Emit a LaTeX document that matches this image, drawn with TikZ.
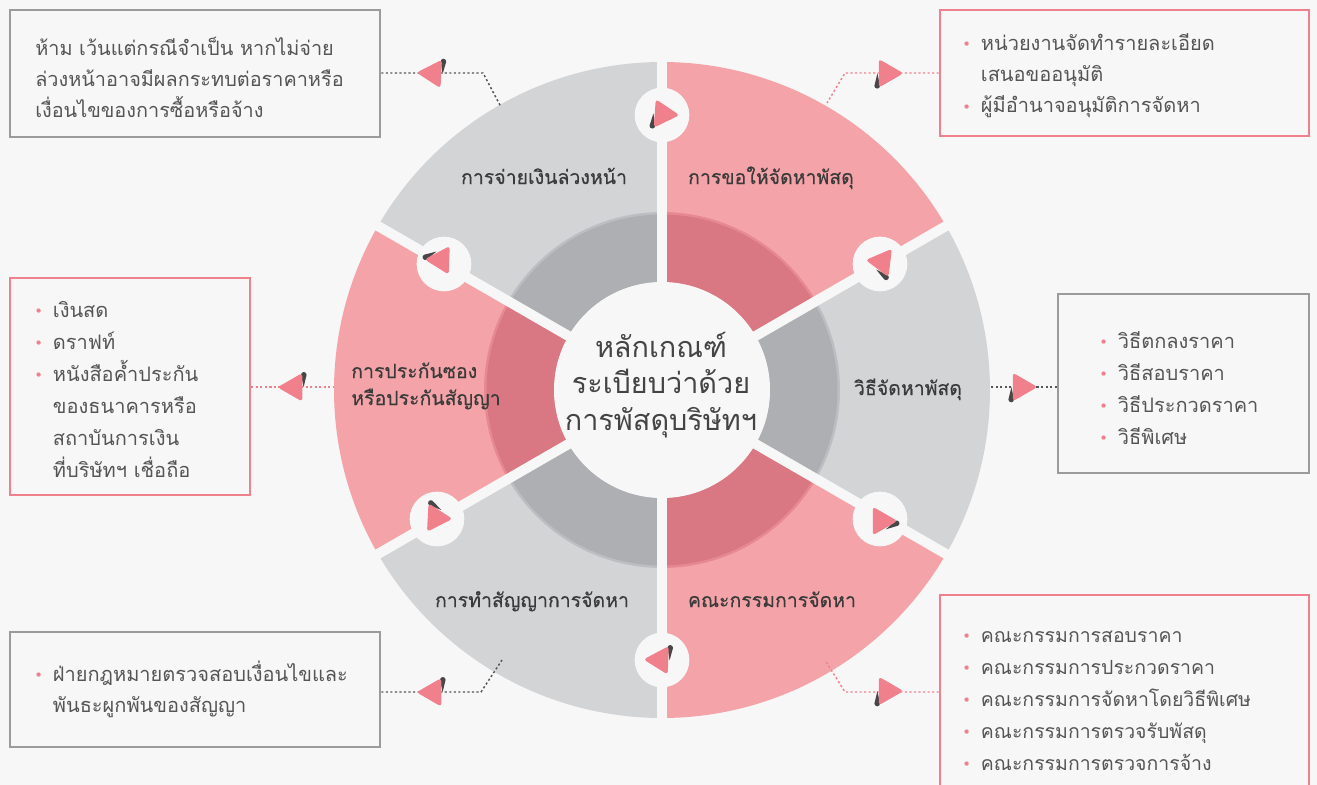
\documentclass[tikz,border=0pt]{standalone}
\usepackage{fontspec}
\newfontfamily\thaifont[Script=Thai]{Loma}
\newfontfamily\thaimed[Script=Thai, FakeBold=0.35]{Loma}
\newfontfamily\dotfont{DejaVu Sans}
\usetikzlibrary{calc,fit}

\definecolor{canvas}{HTML}{F7F7F7}
\definecolor{pinkA}{HTML}{F4A4A9}
\definecolor{pinkB}{HTML}{D97882}
\definecolor{pinkEdge}{HTML}{E68991}
\definecolor{greyA}{HTML}{D3D4D6}
\definecolor{greyB}{HTML}{AEAFB2}
\definecolor{greyEdge}{HTML}{BDBEC1}
\definecolor{accent}{HTML}{F0808C}
\definecolor{frameGrey}{HTML}{9B9B9D}
\definecolor{inkDark}{HTML}{3A3A3A}
\definecolor{inkTitle}{HTML}{444444}
\definecolor{inkText}{HTML}{555555}
\definecolor{needleInk}{HTML}{474747}

% bullet and hanging indent for the lists
\newcommand{\bul}{\makebox[14pt][l]{\raisebox{0.5pt}{\textcolor{accent}{\dotfont\fontsize{11}{11}\selectfont •}}}}
\newcommand{\ind}{\hspace*{14pt}}

\tikzset{
  marker/.pic={
    \begin{scope}[yscale=-1, rotate=#1]
      \fill[needleInk] (-9.6,0) -- (-12.6,-12.5)
        arc[start angle=180, end angle=360, radius=2.8] -- cycle;
      \fill[accent, rounded corners=2.4pt] (0:16.5) -- (120:16.5) -- (240:16.5) -- cycle;
    \end{scope}
  },
  badge/.style={circle, fill=canvas, minimum size=41pt, inner sep=0},
  boxG/.style={draw=frameGrey, line width=1.9pt, inner sep=0},
  boxP/.style={draw=accent, line width=1.9pt, inner sep=0},
  boxtext/.style={align=left, inner sep=0, text=inkText, text width=300pt,
    font=\thaifont\fontsize{14.9}{23.4}\selectfont},
  listtext/.style={align=left, inner sep=0, text=inkText, text width=300pt,
    font=\thaifont\fontsize{15}{24}\selectfont},
  seglabel/.style={inner sep=0, text=inkDark, font=\thaimed\fontsize{14.6}{20.25}\selectfont},
  dotG/.style={draw=inkText, line width=1.1pt, dash pattern=on 1.6pt off 1.8pt},
  dotP/.style={draw=accent, line width=1.1pt, dash pattern=on 1.6pt off 1.8pt},
}

\begin{document}
\begin{tikzpicture}[x=0.75pt, y=-0.75pt, font=\thaifont]
\fill[canvas] (0,0) rectangle (1317,785);
\useasboundingbox (0,0) rectangle (1317,785);

% ---- ring of six sectors ----
\begin{scope}[shift={(662,390)}, yscale=-1]
  \foreach \a/\c in {90/greyA, 30/pinkA, -30/greyA, -90/pinkA, 210/greyA, 150/pinkA}
    \fill[\c] (0,0) -- (\a:328) arc[start angle=\a, end angle=\a+60, radius=328] -- cycle;
  \foreach \a/\c/\e in {90/greyB/greyEdge, 30/pinkB/pinkEdge, -30/greyB/greyEdge,
                        -90/pinkB/pinkEdge, 210/greyB/greyEdge, 150/pinkB/pinkEdge}{
    \fill[\e] (\a:108) -- (\a:178) arc[start angle=\a, end angle=\a+60, radius=178]
      -- (\a+60:108) arc[start angle=\a+60, end angle=\a, radius=108] -- cycle;
    \fill[\c] (\a:108) -- (\a:175.5) arc[start angle=\a, end angle=\a+60, radius=175.5]
      -- (\a+60:108) arc[start angle=\a+60, end angle=\a, radius=108] -- cycle;
  }
  \foreach \a in {30,90,150,210,270,330}
    \draw[canvas, line width=7.5pt] (0,0) -- (\a:345);
\end{scope}

% ---- centre disc and title ----
\node[circle, fill=canvas, minimum size=162pt, inner sep=0] (hub) at (662,390) {};
\node[align=center, inner sep=0, text=inkTitle, text width=220pt, anchor=base,
      font=\thaifont\fontsize{21.6}{27.4}\selectfont] (title) at (661,357)
  {หลักเกณฑ์\\ระเบียบว่าด้วย\\การพัสดุบริษัทฯ};

% ---- sector labels ----
\node[seglabel, anchor=base] (s1) at (544,184) {การจ่ายเงินล่วงหน้า};
\node[seglabel, anchor=base] (s2) at (771,184) {การขอให้จัดหาพัสดุ};
\node[seglabel, anchor=base] (s3) at (908,395) {วิธีจัดหาพัสดุ};
\node[seglabel, anchor=base west, align=left, text width=200pt] (s4) at (351,378)
  {การประกันซอง\\หรือประกันสัญญา};
\node[seglabel, anchor=base] (s5) at (532,607) {การทำสัญญาการจัดหา};
\node[seglabel, anchor=base] (s6) at (772,607) {คณะกรรมการจัดหา};

% ---- information boxes ----
\node[boxG, fit={(10,10) (380,137)}] (box1) {};
\node[boxP, fit={(940,10) (1309,136)}] (box2) {};
\node[boxP, fit={(10,278) (250,495)}] (box3) {};
\node[boxG, fit={(1058,294) (1309,473)}] (box4) {};
\node[boxG, fit={(10,632) (380,747)}] (box5) {};
\node[boxP, fit={(940,595) (1309,800)}] (box6) {};

\node[boxtext, anchor=base west] (t1) at (35,55)
  {ห้าม เว้นแต่กรณีจำเป็น หากไม่จ่าย\\ล่วงหน้าอาจมีผลกระทบต่อราคาหรือ\\เงื่อนไขของการซื้อหรือจ้าง};
\node[listtext, anchor=base west, font=\thaifont\fontsize{15}{23.6}\selectfont] (t2) at (962,50)
  {\bul หน่วยงานจัดทำรายละเอียด\\\ind เสนอขออนุมัติ\\\bul ผู้มีอำนาจอนุมัติการจัดหา};
\node[listtext, anchor=base west] (t3) at (34,317)
  {\bul เงินสด\\\bul ดราฟท์\\\bul หนังสือค้ำประกัน\\\ind ของธนาคารหรือ\\\ind สถาบันการเงิน\\\ind ที่บริษัทฯ เชื่อถือ};
\node[listtext, anchor=base west] (t4) at (1099,348)
  {\bul วิธีตกลงราคา\\\bul วิธีสอบราคา\\\bul วิธีประกวดราคา\\\bul วิธีพิเศษ};
\node[listtext, anchor=base west, font=\thaifont\fontsize{15}{23.4}\selectfont] (t5) at (34,681)
  {\bul ฝ่ายกฎหมายตรวจสอบเงื่อนไขและ\\\ind พันธะผูกพันของสัญญา};
\node[listtext, anchor=base west, font=\thaifont\fontsize{14.6}{24}\selectfont] (t6) at (962,642)
  {\bul คณะกรรมการสอบราคา\\\bul คณะกรรมการประกวดราคา\\\bul คณะกรรมการจัดหาโดยวิธีพิเศษ\\\bul คณะกรรมการตรวจรับพัสดุ\\\bul คณะกรรมการตรวจการจ้าง};

% ---- dotted leaders ----
\coordinate (k1) at (483,73);   \coordinate (e1) at (501,107);
\coordinate (k2) at (845,73);   \coordinate (e2) at (827,103);
\coordinate (e3) at (334,387);
\coordinate (e4) at (990,387);
\coordinate (k5) at (481,692);  \coordinate (e5) at (502,660);
\coordinate (k6) at (845,692);  \coordinate (e6) at (825,660);
\coordinate (m1) at (433,73.5);
\coordinate (m2) at (887,73.3);
\coordinate (m3) at (294,387.3);
\coordinate (m4) at (1021,387);
\coordinate (m5) at (433,692.3);
\coordinate (m6) at (887,691);

\draw[dotG] (box1.east |- k1) -- (k1) -- (e1);
\draw[dotP] (box2.west |- k2) -- (k2) -- (e2);
\draw[dotP] (box3.east |- e3) -- (e3);
\draw[dotG] (box4.west |- e4) -- (e4);
\draw[dotG] (box5.east |- k5) -- (k5) -- (e5);
\draw[dotP] (box6.west |- k6) -- (k6) -- (e6);

\pic at (m1) {marker=183};
\pic at (m2) {marker=0};
\pic at (m3) {marker=180};
\pic at (m4) {marker=0};
\pic at (m5) {marker=180};
\pic at (m6) {marker=0};

% ---- badges on the spokes ----
\node[badge] (b1) at (662,115) {};
\node[badge] (b2) at (880,264) {};
\node[badge] (b3) at (444,264) {};
\node[badge] (b4) at (437,519) {};
\node[badge] (b5) at (880,519) {};
\node[badge] (b6) at (662,660) {};
\pic at (663,114) {marker=4};
\pic at (882,262) {marker=-53};
\pic at (441,260) {marker=62};
\pic at (436,518) {marker=123};
\pic at (881,521) {marker=240};
\pic at (660,660) {marker=182};
\end{tikzpicture}
\end{document}
